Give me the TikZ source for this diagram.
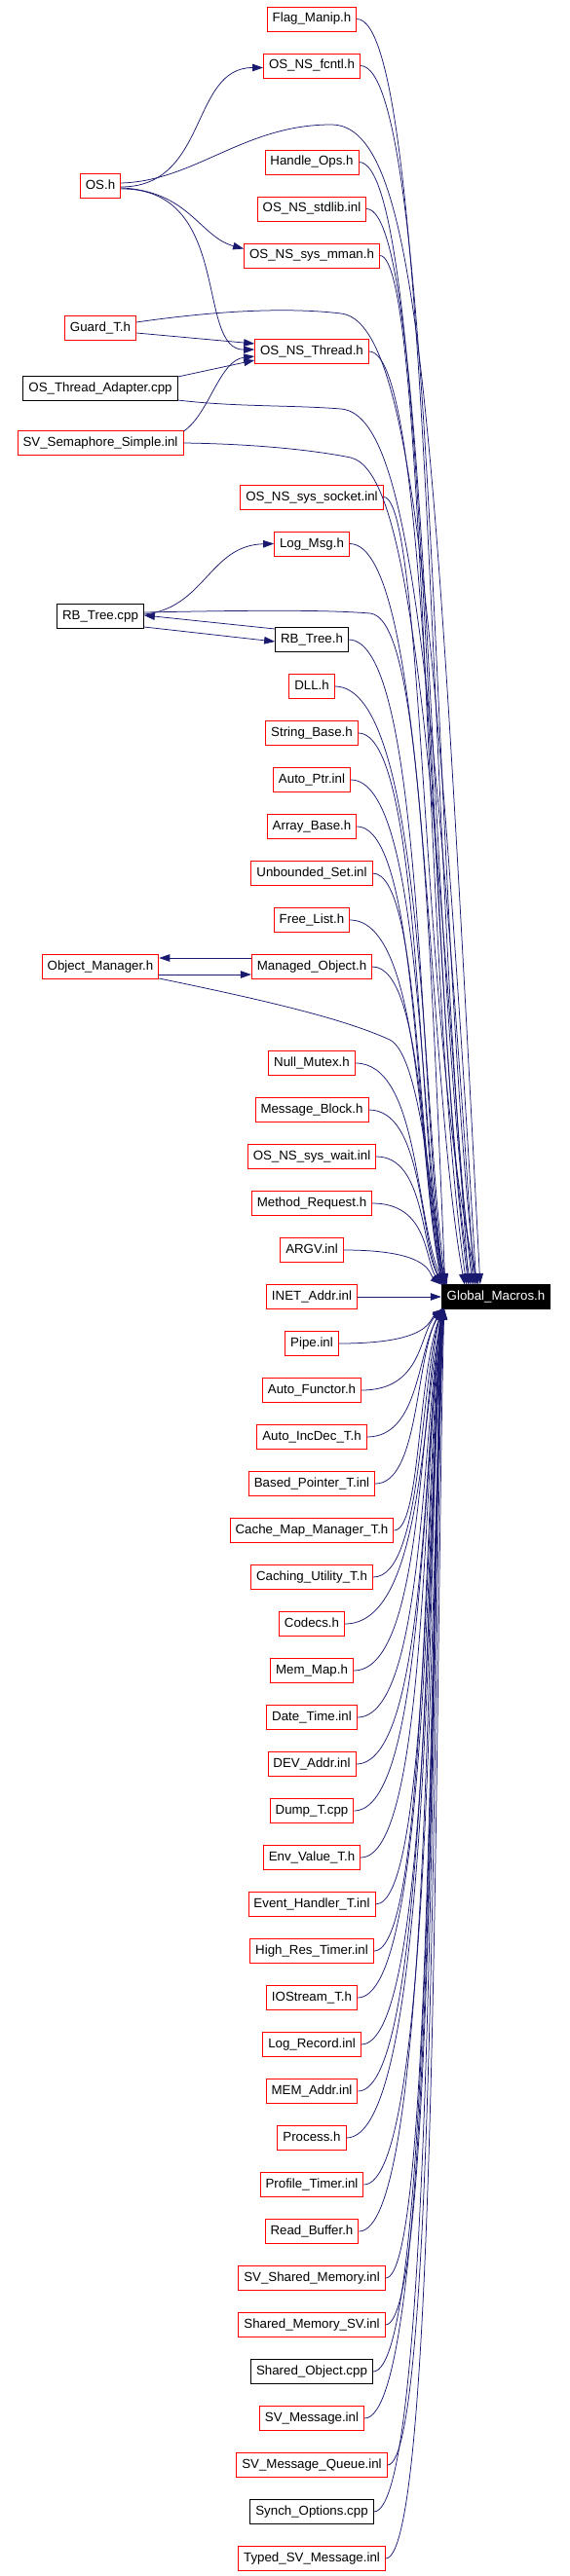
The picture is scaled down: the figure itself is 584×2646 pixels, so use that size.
\documentclass[tikz,border=0pt]{standalone}
\usepackage{fontspec}
\setmainfont{Liberation Sans}
\usepackage{tikz}
\usetikzlibrary{arrows.meta,calc}
\definecolor{edgeblue}{HTML}{191970}
\definecolor{linkred} {HTML}{FF0000}
\tikzset{
  >=Stealth,
  every node/.style={font=\fontsize{13.3}{16}\selectfont},
  % --- nodes
  file/.style = {draw=linkred, fill=white, line width=0.9pt, inner xsep=5.5pt,
                 inner ysep=0pt, minimum height=25pt, text height=10pt, text depth=3pt},
  ext/.style  = {file, draw=black},
  hub/.style  = {file, draw=black, fill=black, text=white},
  % --- edges
  e/.style    = {-{Stealth[length=11pt,width=7.5pt,inset=0pt]}, line width=0.75pt,
                 draw=edgeblue, fill=none},
}

\begin{document}
\begin{tikzpicture}[x=1pt,y=-1pt]
  \useasboundingbox (0,0) rectangle (584,2646);

  \node[hub] (gm) at (509,1332) {Global\_Macros.h};

  \node[file] (os)      at (103,191) {OS.h};
  \node[file] (guard)   at (103,337) {Guard\_T.h};
  \node[ext]  (adapter) at (103,399) {OS\_Thread\_Adapter.cpp};
  \node[file] (sem)     at (103,455) {SV\_Semaphore\_Simple.inl};
  \node[ext]  (rbcpp)   at (103,633) {RB\_Tree.cpp};
  \node[file] (objmgr)  at (103,993) {Object\_Manager.h};

  \node[file] (inet) at (320,1332) {INET\_Addr.inl};
  \draw[e] (inet) -- (gm);

  % middle column, each one included into Global_Macros.h
  \foreach \n/\c/\y/\b/\d/\t in {
    flag/linkred/19.5/440/32/Flag\_Manip.h,
    fcntl/linkred/67.5/444/36/OS\_NS\_fcntl.h,
    hops/linkred/166.5/436/28/Handle\_Ops.h,
    stdlib/linkred/214.5/438/34/OS\_NS\_stdlib.inl,
    mman/linkred/262.5/434/26/OS\_NS\_sys\_mman.h,
    thread/linkred/361/440/30/OS\_NS\_Thread.h,
    socket/linkred/510.5/432/38/OS\_NS\_sys\_socket.inl,
    logmsg/linkred/558.5/436/24/Log\_Msg.h,
    rbh/black/657/430/3/RB\_Tree.h,
    dll/linkred/705/432/5/DLL.h,
    strb/linkred/753/428/2/String\_Base.h,
    aptr/linkred/801/430/4/Auto\_Ptr.inl,
    arrb/linkred/849/426/1/Array\_Base.h,
    uset/linkred/897/428/3/Unbounded\_Set.inl,
    flist/linkred/945/430/2/Free\_List.h,
    mobj/linkred/993/432/6/Managed\_Object.h,
    nmutex/linkred/1092/426/3/Null\_Mutex.h,
    mblock/linkred/1140/430/1/Message\_Block.h,
    wait/linkred/1188/432/2/OS\_NS\_sys\_wait.inl,
    mreq/linkred/1236/436/0/Method\_Request.h,
    argv/linkred/1284/440/0/ARGV.inl,
    pipe/linkred/1380/440/2/Pipe.inl,
    afunc/linkred/1428/430/1/Auto\_Functor.h,
    aincdec/linkred/1476/428/3/Auto\_IncDec\_T.h,
    bptr/linkred/1524/426/0/Based\_Pointer\_T.inl,
    cmm/linkred/1572/428/2/Cache\_Map\_Manager\_T.h,
    cut/linkred/1620/430/1/Caching\_Utility\_T.h,
    codecs/linkred/1668/432/3/Codecs.h,
    memmap/linkred/1716/430/0/Mem\_Map.h,
    dtime/linkred/1764/432/2/Date\_Time.inl,
    devaddr/linkred/1812/434/1/DEV\_Addr.inl,
    dump/linkred/1860/432/3/Dump\_T.cpp,
    envv/linkred/1908/434/0/Env\_Value\_T.h,
    evh/linkred/1956/436/2/Event\_Handler\_T.inl,
    hrt/linkred/2004/434/1/High\_Res\_Timer.inl,
    iost/linkred/2052/436/3/IOStream\_T.h,
    logrec/linkred/2100/438/0/Log\_Record.inl,
    memaddr/linkred/2148/436/2/MEM\_Addr.inl,
    proc/linkred/2196/438/1/Process.h,
    ptimer/linkred/2244/440/3/Profile\_Timer.inl,
    rbuf/linkred/2292/438/0/Read\_Buffer.h,
    svshm/linkred/2340/440/2/SV\_Shared\_Memory.inl,
    shmsv/linkred/2388/442/1/Shared\_Memory\_SV.inl,
    shobj/black/2436/440/3/Shared\_Object.cpp,
    svmsg/linkred/2484/442/0/SV\_Message.inl,
    svmq/linkred/2532/444/2/SV\_Message\_Queue.inl,
    synch/black/2580/442/1/Synch\_Options.cpp,
    tsvm/linkred/2628/446/3/Typed\_SV\_Message.inl} {
    \node[file, draw=\c] (\n) at (320,\y) {\t};
    \pgfmathsetmacro\sg{\y<1332 ? -12.5 : 12.5}
    \pgfmathsetmacro\cy{1332+\sg+0.3*(\y-1332-\sg)}
    \draw[e] (\n.east) .. controls (\b+4,\y) and (\b,\cy) .. ($(gm.west)+(\d,\sg)$);
  }

  % left column into Global_Macros.h
  \draw[e] ($(os.east)+(0,-3)$) .. controls (200,186) and (250,128) .. (340,128)
           .. controls (430,128) and (446,420) .. ($(gm.north west)+(40,0)$);
  \draw[e] ($(guard.east)+(0,-6)$) .. controls (230,318) and (300,316) .. (350,322)
           .. controls (415,330) and (444,560) .. ($(gm.north west)+(36,0)$);
  \draw[e] ($(adapter.east)+(0,12)$) .. controls (240,418) and (300,416) .. (350,420)
           .. controls (415,426) and (442,640) .. ($(gm.north west)+(34,0)$);
  \draw[e] (sem.east) .. controls (260,456) and (320,462) .. (360,470)
           .. controls (415,484) and (440,700) .. ($(gm.north west)+(28,0)$);
  \draw[e] ($(rbcpp.east)+(0,-4)$) .. controls (250,627) and (330,626) .. (380,630)
           .. controls (425,635) and (438,860) .. ($(gm.north west)+(4,0)$);
  \draw[e] ($(objmgr.east)+(0,12)$) .. controls (260,1025) and (350,1045) .. (400,1068)
           .. controls (428,1082) and (440,1200) .. ($(gm.north west)+(2,0)$);

  % the other includes
  \draw[e] ($(os.east)+(0,1)$) .. controls +(90,0) and +(-75,0) .. ($(fcntl.west)+(0,2)$);
  \draw[e] ($(os.east)+(0,2)$) .. controls +(70,3) and +(-45,-12) .. ($(mman.west)+(0,-7)$);
  \draw[e] ($(os.east)+(0,3)$) .. controls (240,193) and (200,360) .. ($(thread.west)+(0,-2)$);
  \draw[e] ($(guard.east)+(0,5)$) -- ($(thread.west)+(0,-8)$);
  \draw[e] ($(adapter.east)+(0,-12)$) -- ($(thread.west)+(0,9)$);
  \draw[e] ($(sem.east)+(0,-12)$) .. controls (215,425) and (225,370) .. ($(thread.west)+(0,5)$);
  \draw[e] ($(rbcpp.east)+(0,-2)$) .. controls (210,625) and (215,560) .. (logmsg.west);
  \draw[e] ($(rbh.west)+(0,-11)$) -- ($(rbcpp.east)+(0,-1)$);
  \draw[e] ($(rbcpp.east)+(0,11)$) -- ($(rbh.west)+(0,2)$);
  \draw[e] ($(mobj.west)+(0,-9)$) -- ($(objmgr.east)+(0,-9)$);
  \draw[e] ($(objmgr.east)+(0,8)$) -- ($(mobj.west)+(0,8)$);
\end{tikzpicture}
\end{document}
